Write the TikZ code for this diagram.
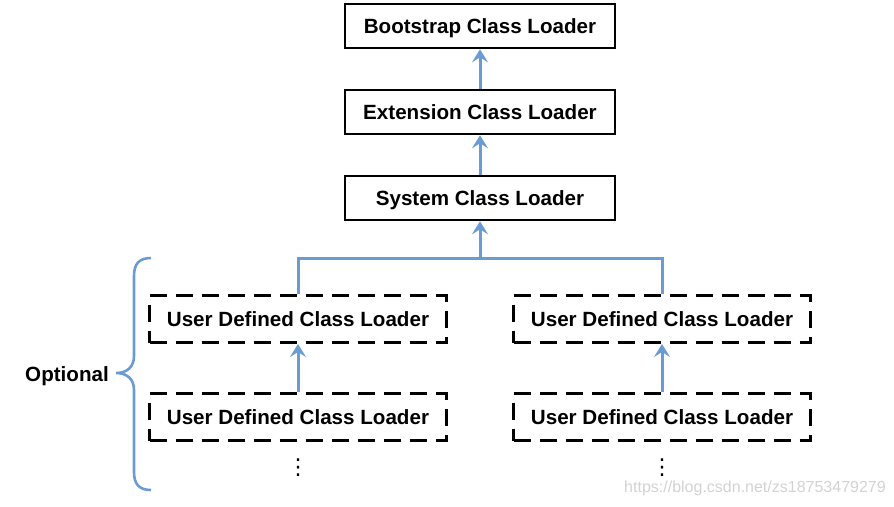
\documentclass[tikz,border=0pt]{standalone}
\usepackage{fontspec}
\setmainfont{Liberation Sans}
\newfontfamily\dvfont{DejaVu Sans}
\usetikzlibrary{arrows.meta}
\definecolor{lnblue}{HTML}{6A9BD2}
\definecolor{wmgray}{HTML}{D2D2D2}
\tikzset{
  solidbox/.style={draw=black, line width=2.6pt, minimum width=270pt, minimum height=44pt, inner sep=0pt, text depth=0pt, font=\fontsize{20.6}{24}\selectfont\bfseries},
  dashbox/.style={draw=black, line width=3pt, dash pattern=on 17pt off 9pt, minimum width=297pt, minimum height=47pt, inner sep=0pt, text depth=0pt, font=\fontsize{20.6}{24}\selectfont\bfseries},
  blueline/.style={draw=lnblue, line width=3pt},
  bluearrow/.style={blueline, -{Stealth[length=13pt,width=16pt,inset=5pt]}},
  dotsnode/.style={inner sep=0pt, font=\dvfont\fontsize{22}{24}\selectfont},
}
\begin{document}
\begin{tikzpicture}[x=1pt,y=-1pt]
\useasboundingbox (0,0) rectangle (894,506);
\node[solidbox] (boot) at (480,26) {Bootstrap Class Loader};
\node[solidbox] (ext) at (480,112) {Extension Class Loader};
\node[solidbox] (sys) at (480,198) {System Class Loader};
\node[dashbox] (u1a) at (298,319) {User Defined Class Loader};
\node[dashbox] (u1b) at (298,417) {User Defined Class Loader};
\node[dashbox] (u2a) at (662,319) {User Defined Class Loader};
\node[dashbox] (u2b) at (662,417) {User Defined Class Loader};
\node[dotsnode] (d1) at (298,468) {⋮};
\node[dotsnode] (d2) at (662,468) {⋮};
\node[inner sep=0pt, text depth=0pt, font=\fontsize{20.6}{24}\selectfont\bfseries] (opt) at (67,374) {Optional};
\node[inner sep=0pt, text=wmgray, font=\fontsize{16}{19}\selectfont] (wm) at (755,488) {https://blog.csdn.net/zs18753479279};
\coordinate (j) at (480,258);
\draw[bluearrow] (ext.north) -- (boot.south);
\draw[bluearrow] (sys.north) -- (ext.south);
\draw[bluearrow] (j) -- (sys.south);
\draw[blueline] (u1a.north) |- (j) -| (u2a.north);
\draw[bluearrow] (u1b.north) -- (u1a.south);
\draw[bluearrow] (u2b.north) -- (u2a.south);
\draw[blueline, line width=2.6pt] (151,258) .. controls (139,258) and (134,264) .. (134,276) -- (134,356) .. controls (134,367) and (127,373) .. (116,373) .. controls (127,373) and (134,379) .. (134,390) -- (134,472) .. controls (134,484) and (139,490) .. (151,490);
\end{tikzpicture}
\end{document}
